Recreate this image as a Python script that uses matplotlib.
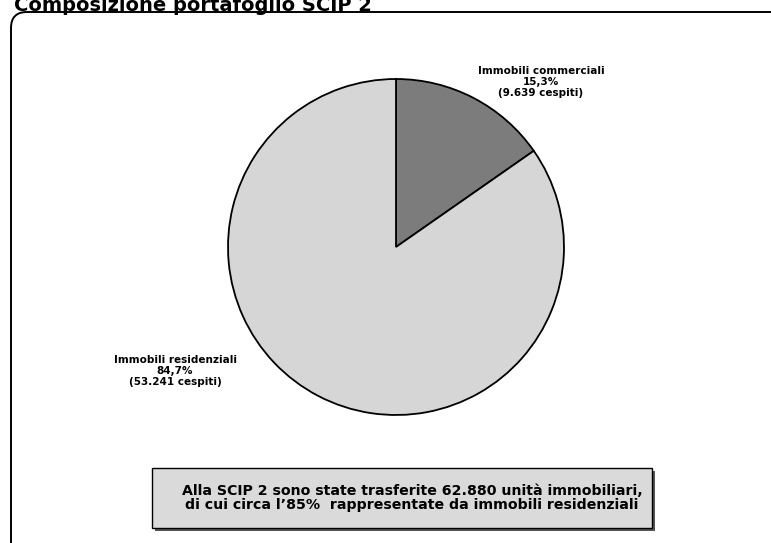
import matplotlib.pyplot as plt
from matplotlib.patches import FancyBboxPatch

# data
categories = ["Immobili commerciali", "Immobili residenziali"]
shares = [15.3, 84.7]
share_labels = ["15,3%", "84,7%"]
counts = ["9.639", "53.241"]
colors = ["#7c7c7c", "#d6d6d6"]

title = "Composizione portafoglio SCIP 2"
note = ("Alla SCIP 2 sono state trasferite 62.880 unità immobiliari,\n"
        "di cui circa l\u201985%  rappresentate da immobili residenziali")

W, H = 771, 543
fig = plt.figure(figsize=(W / 100, H / 100), dpi=100)
ax = fig.add_axes([0, 0, 1, 1])

# pie (pixel coordinates, y measured from bottom)
ax.pie(shares, colors=colors, startangle=90, counterclock=False,
       center=(396, H - 247), radius=168,
       wedgeprops=dict(edgecolor="black", linewidth=1.3))

ax.set_xlim(0, W)
ax.set_ylim(0, H)
ax.set_aspect("equal")
ax.axis("off")

# outer rounded frame
frame = FancyBboxPatch((11, -20), 780, H - 12 + 20,
                       boxstyle="round,pad=0,rounding_size=16",
                       facecolor="none", edgecolor="black", linewidth=1.4,
                       clip_on=False)
ax.add_patch(frame)

# title at the top edge
ax.text(14, H - 15, title, fontsize=14, fontweight="bold",
        ha="left", va="bottom")

# slice labels
ax.text(541, H - 82, f"{categories[0]}\n{share_labels[0]}\n({counts[0]} cespiti)",
        ha="center", va="center", fontsize=7.5, fontweight="bold",
        linespacing=1.1)
ax.text(175, H - 371, f"{categories[1]}\n{share_labels[1]}\n({counts[1]} cespiti)",
        ha="center", va="center", fontsize=7.5, fontweight="bold",
        linespacing=1.1)

# shadow + note box
ax.add_patch(plt.Rectangle((155, H - 531), 500, 60, facecolor="#555555",
                           edgecolor="none"))
ax.add_patch(plt.Rectangle((152, H - 528), 500, 60, facecolor="#dadada",
                           edgecolor="black", linewidth=1.0))
ax.text(412, H - 498, note, ha="center", va="center", fontsize=10.2,
        fontweight="bold", linespacing=1.05)

fig.savefig("out.png", dpi=100)
